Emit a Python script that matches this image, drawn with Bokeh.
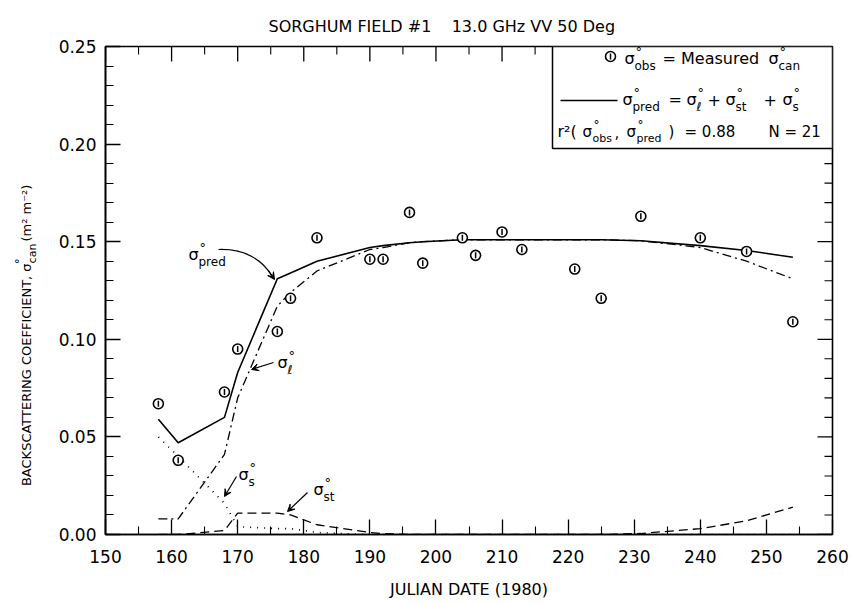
import math
from bokeh.plotting import figure
from bokeh.layouts import row
from bokeh.models import Range1d, Label, Arrow, VeeHead, FixedTicker, NumeralTickFormatter
from bokeh.embed import file_html
from bokeh.resources import INLINE

# ---------------- data ----------------
days = [158, 161, 168, 170, 176, 178, 182, 190, 192, 196, 198,
        204, 206, 210, 213, 221, 225, 231, 240, 247, 254]
sigma_obs = [0.067, 0.038, 0.073, 0.095, 0.104, 0.121, 0.152, 0.141, 0.141, 0.165, 0.139,
             0.152, 0.143, 0.155, 0.146, 0.136, 0.121, 0.163, 0.152, 0.145, 0.109]
sigma_pred = [0.059, 0.047, 0.060, 0.083, 0.131, 0.134, 0.140, 0.147, 0.148, 0.1495, 0.150,
              0.151, 0.151, 0.151, 0.151, 0.151, 0.151, 0.1505, 0.148, 0.1455, 0.142]
sigma_leaf = [0.008, 0.008, 0.041, 0.070, 0.117, 0.124, 0.135, 0.146, 0.147, 0.1495, 0.150,
              0.151, 0.151, 0.151, 0.151, 0.151, 0.151, 0.1505, 0.147, 0.140, 0.131]
sigma_stalk = [0.0, 0.0, 0.002, 0.011, 0.011, 0.010, 0.005, 0.001, 0.0005, 0.0, 0.0,
               0.0, 0.0, 0.0, 0.0, 0.0, 0.0, 0.0005, 0.003, 0.007, 0.014]
sigma_soil = [0.050, 0.040, 0.016, 0.004, 0.003, 0.003, 0.001, 0.0, 0.0, 0.0, 0.0,
              0.0, 0.0, 0.0, 0.0, 0.0, 0.0, 0.0, 0.0, 0.0, 0.0]

x_ticks = [150, 160, 170, 180, 190, 200, 210, 220, 230, 240, 250, 260]
x_minor = [155, 165, 175, 185, 195, 205, 215, 225, 235, 245, 255]
y_ticks = [0.0, 0.05, 0.10, 0.15, 0.20, 0.25]
y_minor = [0.01, 0.02, 0.03, 0.04, 0.06, 0.07, 0.08, 0.09, 0.11, 0.12, 0.13, 0.14,
           0.16, 0.17, 0.18, 0.19, 0.21, 0.22, 0.23, 0.24]

NB = "\u00a0"
title_text = "SORGHUM FIELD #1" + NB * 4 + "13.0 GHz VV 50 Deg"
xlabel_text = "JULIAN DATE (1980)"

# ---------------- layout (page pixels) ----------------
W, H = 851, 603
YL_W = 45                      # strip holding the rotated y label
FL, FR, FT, FB = 105, 832, 46, 534
X0, X1, Y0, Y1 = 150, 260, 0.0, 0.25
FONT = "DejaVu Sans"
MAJ, MIN = 15, 8


def X(px):
    return X0 + (px - FL) * (X1 - X0) / (FR - FL)


def Y(py):
    return Y0 + (FB - py) * (Y1 - Y0) / (FB - FT)


DX = (X1 - X0) / (FR - FL)     # data per pixel
DY = (Y1 - Y0) / (FB - FT)

p = figure(width=W - YL_W, height=H, x_range=Range1d(X0, X1), y_range=Range1d(Y0, Y1),
           output_backend="svg", toolbar_location=None,
           min_border_left=FL - YL_W, min_border_right=W - FR,
           min_border_top=FT, min_border_bottom=H - FB)
p.xgrid.visible = False
p.ygrid.visible = False
p.outline_line_color = "black"
p.outline_line_width = 1.6

p.title.text = title_text
p.title.text_font = FONT
p.title.text_font_size = "16px"
p.title.text_font_style = "normal"
p.title.text_color = "black"
p.title.align = "left"
p.title.offset = 268 - FL
p.title.standoff = 21

xt = FixedTicker(ticks=x_ticks, minor_ticks=x_minor)
yt = FixedTicker(ticks=y_ticks, minor_ticks=y_minor)
for ax in (p.xaxis[0], p.yaxis[0]):
    ax.axis_line_color = "black"
    ax.axis_line_width = 1.6
    ax.major_tick_in = MAJ
    ax.major_tick_out = 0
    ax.minor_tick_in = MIN
    ax.minor_tick_out = 0
    ax.major_tick_line_color = "black"
    ax.minor_tick_line_color = "black"
    ax.major_tick_line_width = 1.3
    ax.minor_tick_line_width = 1.1
    ax.major_label_text_font = FONT
    ax.major_label_text_font_size = "17px"
    ax.major_label_text_color = "black"
p.xaxis.ticker = xt
p.yaxis.ticker = yt
p.yaxis.formatter = NumeralTickFormatter(format="0.00")
p.xaxis.major_label_standoff = 15
p.yaxis.major_label_standoff = 9
p.yaxis.axis_label = None
p.xaxis.axis_label = xlabel_text
p.xaxis.axis_label_text_font = FONT
p.xaxis.axis_label_text_font_size = "16px"
p.xaxis.axis_label_text_font_style = "normal"
p.xaxis.axis_label_text_color = "black"
p.xaxis.axis_label_standoff = 14

# tick marks on the top and right frame edges, from the tick lists
p.segment(x_ticks, [Y1] * len(x_ticks), x_ticks, [Y1 - MAJ * DY] * len(x_ticks),
          line_color="black", line_width=1.3)
p.segment(x_minor, [Y1] * len(x_minor), x_minor, [Y1 - MIN * DY] * len(x_minor),
          line_color="black", line_width=1.1)
p.segment([X1] * len(y_ticks), y_ticks, [X1 - MAJ * DX] * len(y_ticks), y_ticks,
          line_color="black", line_width=1.3)
p.segment([X1] * len(y_minor), y_minor, [X1 - MIN * DX] * len(y_minor), y_minor,
          line_color="black", line_width=1.1)

# ---------------- curves ----------------
p.line(days, sigma_pred, line_color="black", line_width=1.6)
p.line(days, sigma_leaf, line_color="black", line_width=1.3, line_dash="9 4 2 4")
p.line(days, sigma_stalk, line_color="black", line_width=1.3, line_dash="9 5")
p.line(days, sigma_soil, line_color="black", line_width=1.6, line_dash="1 6")

p.scatter(days, sigma_obs, marker="circle", size=10, fill_color="white",
          line_color="black", line_width=1.6)
p.scatter(days, sigma_obs, marker="dash", size=6, angle=math.pi / 2,
          line_color="black", line_width=1.5)


# ---------------- text helpers ----------------
def txt(px, py, s, size=15, align="left"):
    p.add_layout(Label(x=X(px), y=Y(py), text=s, text_font=FONT,
                       text_font_size=f"{size}px", text_color="black",
                       text_align=align, text_baseline="middle"))


def sym(px, py, sub, size=16, sub_size=12):
    """sigma with a superscript degree and a subscript"""
    txt(px, py, "σ", size)
    txt(px + 11, py - 7, "°", size - 3)
    txt(px + 10, py + 7, sub, sub_size)


# ---------------- legend box ----------------
LB_L, LB_B = 552, 148
p.quad(left=[X(LB_L)], right=[X1], top=[Y1], bottom=[Y(LB_B)], fill_color="white",
       line_color="black", line_width=1.5)
p.scatter([X(610)], [Y(56)], marker="circle", size=10, fill_color="white",
          line_color="black", line_width=1.6)
p.scatter([X(610)], [Y(56)], marker="dash", size=6, angle=math.pi / 2,
          line_color="black", line_width=1.5)
sym(624, 58, "obs")
txt(662, 58, "= Measured", 16)
sym(768, 58, "can")

p.line([X(560), X(617)], [Y(100)] * 2, line_color="black", line_width=1.6)
sym(622, 99, "pred")
txt(668, 99, "=", 16)
sym(686, 99, "ℓ")
txt(707, 99, "+", 16)
sym(725, 99, "st")
txt(763, 99, "+", 16)
sym(782, 99, "s")

txt(557, 131, "r²(", 16)
sym(582, 131, "obs", 15, 11)
txt(614, 131, ",", 15)
sym(626, 131, "pred", 15, 11)
txt(668, 131, ")", 15)
txt(684, 131, "= 0.88", 15)
txt(768, 131, "N = 21", 15)

# ---------------- in-plot annotations ----------------
sym(188, 254, "pred")
p.bezier(x0=X(218), y0=Y(249), x1=X(271), y1=Y(275), cx0=X(245), cy0=Y(248),
         cx1=X(262), cy1=Y(260), line_color="black", line_width=1.2)
p.add_layout(Arrow(end=VeeHead(size=7, fill_color="black", line_color="black"),
                   x_start=X(268), y_start=Y(270), x_end=X(274), y_end=Y(279),
                   line_color="black", line_width=1.2))
sym(277, 362, "ℓ")
p.add_layout(Arrow(end=VeeHead(size=7, fill_color="black", line_color="black"),
                   x_start=X(273), y_start=Y(362), x_end=X(251), y_end=Y(369),
                   line_color="black", line_width=1.2))
sym(238, 474, "s")
p.add_layout(Arrow(end=VeeHead(size=7, fill_color="black", line_color="black"),
                   x_start=X(236), y_start=Y(476), x_end=X(224), y_end=Y(496),
                   line_color="black", line_width=1.2))
sym(313, 489, "st")
p.add_layout(Arrow(end=VeeHead(size=7, fill_color="black", line_color="black"),
                   x_start=X(307), y_start=Y(492), x_end=X(287), y_end=Y(511),
                   line_color="black", line_width=1.2))

# ---------------- rotated y label strip ----------------
yl = figure(width=YL_W, height=H, x_range=Range1d(0, YL_W), y_range=Range1d(H, 0),
            output_backend="svg", toolbar_location=None,
            x_axis_type=None, y_axis_type=None,
            min_border_left=0, min_border_right=0, min_border_top=0, min_border_bottom=0)
yl.outline_line_color = None
yl.xgrid.visible = False
yl.ygrid.visible = False


def ytxt(x, y, s, size, align):
    yl.add_layout(Label(x=x, y=y, text=s, text_font=FONT, text_font_size=f"{size}px",
                        text_color="black", text_align=align, text_baseline="middle",
                        angle=math.pi / 2))


SIG_END = 268                       # where the sigma of the y label ends (page y)
ytxt(26, SIG_END, "BACKSCATTERING COEFFICIENT, σ", 13, "right")
ytxt(19, SIG_END + 1, "°", 12, "left")
ytxt(32, SIG_END, "can", 11, "left")
ytxt(26, SIG_END - 27, "(m² m⁻²)", 13, "left")

layout = row(yl, p)
open("out.html", "w").write(file_html(layout, INLINE))
